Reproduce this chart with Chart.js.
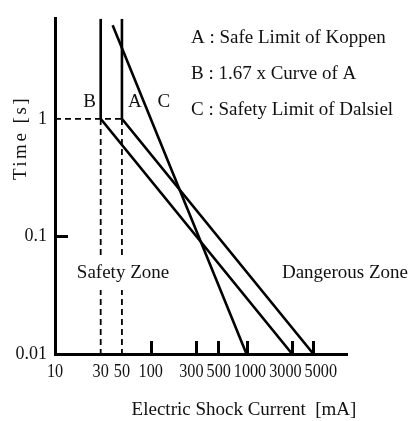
<!DOCTYPE html>
<html>
<head>
<meta charset="utf-8">
<script src="https://cdn.jsdelivr.net/npm/chart.js@4.4.1/dist/chart.umd.min.js"></script>
<style>
  html, body { margin: 0; padding: 0; background: #fff; }
  canvas { display: block; }
</style>
</head>
<body>
<canvas id="chart" width="413" height="421"></canvas>
<script>
// Axis ticks: electric shock current (mA) and time (s)
const currentTicks = [10, 30, 50, 100, 300, 500, 1000, 3000, 5000];
const timeTicks = [0.01, 0.1, 1];
const currentRange = [10, 11200];
const timeRange = [0.01, 7.1];

// Limit curves as [current mA, time s]
const curveA = [[50, 7.1], [50, 1], [5000, 0.01]];
const curveB = [[30, 7.1], [30, 1], [3000, 0.01]];
const curveC = [[40, 6.25], [1000, 0.01]];

// Guides from the 1 s knee down to the axes
const guideTime = [[10, 1], [50, 1]];
const guideB = [[30, 1], [30, 0.01]];
const guideA = [[50, 1], [50, 0.01]];

const legendLines = [
  'A : Safe Limit of Koppen',
  'B : 1.67 x Curve of A',
  'C : Safety Limit of Dalsiel'
];

const FONT = '"Liberation Serif", "DejaVu Serif", serif';
const INK = '#111';

const toPoints = arr => arr.map(([x, y]) => ({ x, y }));

const solid = (label, arr) => ({
  label, data: toPoints(arr), showLine: true, borderColor: '#000',
  borderWidth: 2.6, pointRadius: 0, tension: 0, fill: false, order: 1
});
const dashed = (label, arr) => ({
  label, data: toPoints(arr), showLine: true, borderColor: '#000',
  borderWidth: 1.8, borderDash: [6, 4], pointRadius: 0, tension: 0, fill: false, order: 2
});

// Current tick labels, slightly condensed and spread apart where they would collide
function drawCurrentLabels(ctx, x, baseline) {
  const squeeze = 0.9, gap = 3;
  ctx.font = `18px ${FONT}`;
  const items = currentTicks.map(v => ({
    text: String(v),
    c: x.getPixelForValue(v),
    w: ctx.measureText(String(v)).width * squeeze
  }));
  for (let pass = 0; pass < 8; pass++) {
    for (let i = 1; i < items.length; i++) {
      const a = items[i - 1], b = items[i];
      const overlap = (a.c + a.w / 2 + gap) - (b.c - b.w / 2);
      if (overlap > 0 && i > 1) { a.c -= overlap / 2; b.c += overlap / 2; }
      else if (overlap > 0) { b.c += overlap; }
    }
  }
  ctx.textAlign = 'center';
  items.forEach(it => {
    ctx.save();
    ctx.translate(it.c, baseline);
    ctx.scale(squeeze, 1);
    ctx.fillText(it.text, 0, 0);
    ctx.restore();
  });
}

// Tick marks, curve labels, zone labels, legend text and axis titles
const decorations = {
  id: 'decorations',
  afterDraw(chart) {
    const { ctx, chartArea, scales: { x, y } } = chart;
    ctx.save();

    // inward tick marks
    ctx.strokeStyle = '#000';
    ctx.lineWidth = 3;
    ctx.beginPath();
    currentTicks.filter(v => v >= 100).forEach(v => {
      const px = Math.round(x.getPixelForValue(v)) + 0.5;
      ctx.moveTo(px, chartArea.bottom);
      ctx.lineTo(px, chartArea.bottom - 13);
    });
    timeTicks.filter(v => v > 0.01 && v < 1).forEach(v => {
      const py = Math.round(y.getPixelForValue(v)) + 0.5;
      ctx.moveTo(chartArea.left, py);
      ctx.lineTo(chartArea.left + 13, py);
    });
    ctx.stroke();

    ctx.fillStyle = INK;
    ctx.textBaseline = 'alphabetic';
    drawCurrentLabels(ctx, x, chartArea.bottom + 23);

    ctx.font = `19px ${FONT}`;

    // curve letters beside the knee
    const knee = y.getPixelForValue(1);
    ctx.textAlign = 'center';
    ctx.fillText('B', x.getPixelForValue(30) - 11, knee - 12);
    ctx.fillText('A', x.getPixelForValue(50) + 13, knee - 12);
    ctx.fillText('C', x.getPixelForValue(50) + 42, knee - 12);

    // zone labels (knock out the guides behind the text)
    const zoneBase = 278;
    const safeW = ctx.measureText('Safety Zone').width;
    ctx.fillStyle = '#fff';
    ctx.fillRect(123 - safeW / 2 - 2, zoneBase - 20, safeW + 4, 32);
    ctx.fillStyle = INK;
    ctx.fillText('Safety Zone', 123, zoneBase);
    ctx.fillText('Dangerous Zone', 345, zoneBase);

    // legend text
    ctx.textAlign = 'left';
    [43, 79, 115].forEach((base, i) => ctx.fillText(legendLines[i], 191, base));

    // axis titles
    ctx.textAlign = 'center';
    ctx.fillText('Electric Shock Current  [mA]', 244, 415);

    ctx.save();
    ctx.translate(26, 138);
    ctx.rotate(-Math.PI / 2);
    ctx.letterSpacing = '2.5px';
    ctx.fillText('Time [s]', 0, 0);
    ctx.restore();

    ctx.restore();
  }
};

new Chart(document.getElementById('chart'), {
  type: 'scatter',
  data: {
    datasets: [
      dashed('time guide', guideTime),
      dashed('B guide', guideB),
      dashed('A guide', guideA),
      solid('A', curveA),
      solid('B', curveB),
      solid('C', curveC)
    ]
  },
  options: {
    responsive: false,
    animation: false,
    devicePixelRatio: 1,
    layout: { padding: { top: 6, right: 66, left: 0, bottom: 0 } },
    plugins: { legend: { display: false }, tooltip: { enabled: false } },
    scales: {
      x: {
        type: 'logarithmic',
        position: 'bottom',
        min: currentRange[0],
        max: currentRange[1],
        afterFit: s => { s.height = 67; },
        afterBuildTicks: s => { s.ticks = currentTicks.map(value => ({ value })); },
        ticks: { display: false, autoSkip: false },
        grid: { display: false, drawTicks: false },
        border: { display: true, color: '#000', width: 3 }
      },
      y: {
        type: 'logarithmic',
        position: 'left',
        min: timeRange[0],
        max: timeRange[1],
        afterFit: s => { s.width = 55; },
        afterBuildTicks: s => { s.ticks = timeTicks.map(value => ({ value })); },
        ticks: {
          autoSkip: false, padding: 8, color: INK,
          font: { family: FONT, size: 18 },
          callback: v => String(v)
        },
        grid: { display: false, drawTicks: false },
        border: { display: true, color: '#000', width: 3 }
      }
    }
  },
  plugins: [decorations]
});
</script>
</body>
</html>
